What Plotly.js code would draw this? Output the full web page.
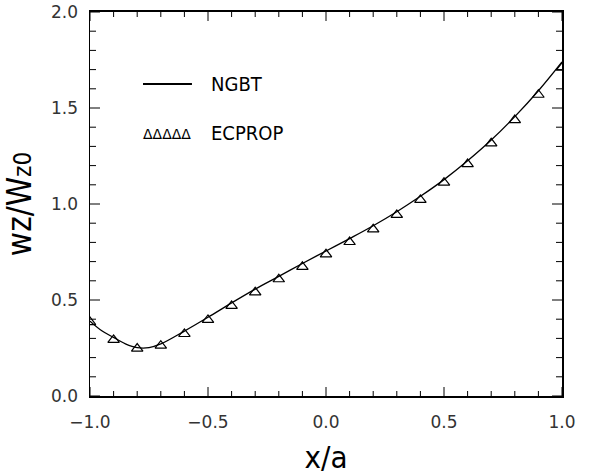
<!DOCTYPE html>
<html>
<head>
<meta charset="utf-8">
<script src="https://cdn.plot.ly/plotly-3.0.1.min.js"></script>
<style>html,body{margin:0;padding:0;background:#fff;}#chart{width:590px;height:475px;}</style>
</head>
<body>
<div id="chart"></div>
<script>
// NGBT curve (solid line)
const ngbtX = [-1.0, -0.95, -0.9, -0.85, -0.8, -0.75, -0.7, -0.6, -0.5, -0.4, -0.3, -0.2, -0.1, 0.0, 0.1, 0.2, 0.3, 0.4, 0.5, 0.6, 0.7, 0.8, 0.9, 1.0];
const ngbtY = [0.39, 0.34, 0.305, 0.272, 0.252, 0.252, 0.271, 0.338, 0.41, 0.485, 0.557, 0.623, 0.69, 0.755, 0.82, 0.887, 0.96, 1.04, 1.127, 1.225, 1.333, 1.455, 1.59, 1.74];
// ECPROP points (triangles)
const ecX = [-1.0, -0.9, -0.8, -0.7, -0.6, -0.5, -0.4, -0.3, -0.2, -0.1, 0.0, 0.1, 0.2, 0.3, 0.4, 0.5, 0.6, 0.7, 0.8, 0.9, 1.0];
const ecY = [0.385, 0.292, 0.247, 0.262, 0.323, 0.396, 0.469, 0.54, 0.608, 0.673, 0.738, 0.802, 0.868, 0.943, 1.021, 1.111, 1.208, 1.316, 1.437, 1.569, 1.71];
// Axis ticks
const xTicks = [-1.0, -0.5, 0.0, 0.5, 1.0];
const xTickText = ["\u22121.0", "\u22120.5", "0.0", "0.5", "1.0"];
const yTicks = [0.0, 0.5, 1.0, 1.5, 2.0];
const yTickText = ["0.0", "0.5", "1.0", "1.5", "2.0"];
const xRange = [-1, 1];
const yRange = [0, 2];
const minorStep = 0.1;
const legendNames = ["NGBT", "ECPROP"];

const narrow = "DejaVu Sans Condensed, Liberation Sans, sans-serif";
const thin = "DejaVu Sans ExtraLight, DejaVu Sans, sans-serif";

const traces = [
  {x: ngbtX, y: ngbtY, mode: 'lines', name: legendNames[0],
   line: {color: '#000', width: 1.3, shape: 'spline', smoothing: 1}, showlegend: false},
  {x: ecX, y: ecY, mode: 'markers', name: legendNames[1],
   marker: {symbol: 'triangle-up-open', size: 10, color: '#000', line: {width: 1.2, color: '#000'}},
   showlegend: false}
];

function axis(range, vals, txt, titleObj, standoffLabels, lw) {
  return {
    range: range, showgrid: false, zeroline: false, showline: true, linecolor: '#000', linewidth: lw,
    mirror: true, ticks: '', tickmode: 'array', tickvals: vals, ticktext: txt,
    tickfont: {family: thin, size: 17, color: '#333'}, ticklabelstandoff: standoffLabels,
    title: titleObj
  };
}

// tick marks drawn as axis-anchored shapes (inside, on all four sides)
const shapes = [];
function addTicks(values, isX, len) {
  values.forEach(v => {
    if (isX) {
      shapes.push({type: 'line', xref: 'x', yref: 'paper', ysizemode: 'pixel', yanchor: 0, x0: v, x1: v, y0: 0, y1: len, line: {color: '#000', width: 1}});
      shapes.push({type: 'line', xref: 'x', yref: 'paper', ysizemode: 'pixel', yanchor: 1, x0: v, x1: v, y0: 0, y1: -len, line: {color: '#000', width: 1}});
    } else {
      shapes.push({type: 'line', xref: 'paper', yref: 'y', xsizemode: 'pixel', xanchor: 0, y0: v, y1: v, x0: 0, x1: len, line: {color: '#000', width: 1}});
      shapes.push({type: 'line', xref: 'paper', yref: 'y', xsizemode: 'pixel', xanchor: 1, y0: v, y1: v, x0: 0, x1: -len, line: {color: '#000', width: 1}});
    }
  });
}
function minorVals(range, majors) {
  const out = [];
  const n = Math.round((range[1] - range[0]) / minorStep);
  for (let i = 0; i <= n; i++) {
    const v = +(range[0] + i * minorStep).toFixed(6);
    if (!majors.some(m => Math.abs(m - v) < 1e-9)) out.push(v);
  }
  return out;
}
addTicks(xTicks, true, 9);
addTicks(yTicks, false, 10);
addTicks(minorVals(xRange, xTicks), true, 5);
addTicks(minorVals(yRange, yTicks), false, 6);

// legend sample line
shapes.push({type: 'line', xref: 'paper', yref: 'paper', x0: 0.1123, x1: 0.216, y0: 0.8125, y1: 0.8125,
  line: {color: '#000', width: 2}});

const layout = {
  width: 590, height: 475,
  margin: {l: 90, r: 28, t: 12, b: 79},
  paper_bgcolor: '#fff', plot_bgcolor: '#fff',
  showlegend: false,
  xaxis: axis(xRange, xTicks, xTickText,
    {text: 'x/a', font: {family: narrow, size: 31, color: '#000'}, standoff: 22}, 10, 2),
  yaxis: axis(yRange, yTicks, yTickText,
    {text: 'wz/W<span style="font-size:24px">z0</span>', font: {family: narrow, size: 33, color: '#000'}, standoff: 24}, 7, 1.5),
  shapes: shapes,
  annotations: [
    {xref: 'paper', yref: 'paper', x: 0.252, y: 0.8125, xanchor: 'left', yanchor: 'middle', showarrow: false,
     text: legendNames[0], font: {family: narrow, size: 20, color: '#000'}},
    {xref: 'paper', yref: 'paper', x: 0.252, y: 0.685, xanchor: 'left', yanchor: 'middle', showarrow: false,
     text: legendNames[1], font: {family: narrow, size: 20, color: '#000'}},
    {xref: 'paper', yref: 'paper', x: 0.164, y: 0.683, xanchor: 'center', yanchor: 'middle', showarrow: false,
     text: '\u0394\u0394\u0394\u0394\u0394', font: {family: 'DejaVu Sans, sans-serif', size: 14, color: '#000'}}
  ]
};

Plotly.newPlot('chart', traces, layout, {staticPlot: true, displayModeBar: false});
</script>
</body>
</html>
